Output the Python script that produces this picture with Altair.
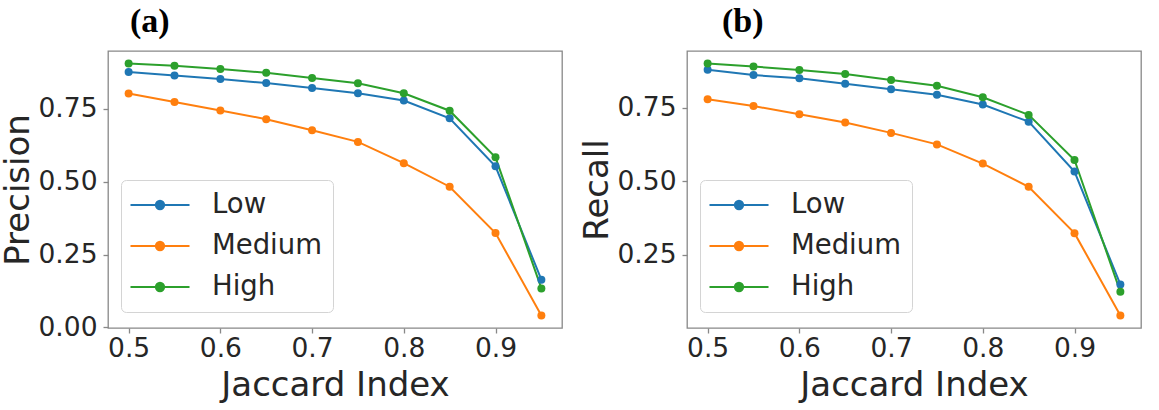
import altair as alt
import pandas as pd

jaccard = [0.5, 0.55, 0.6, 0.65, 0.7, 0.75, 0.8, 0.85, 0.9, 0.95]
series_names = ["Low", "Medium", "High"]
colors = ["#1f77b4", "#ff7f0e", "#2ca02c"]

precision_low = [0.877, 0.865, 0.853, 0.839, 0.822, 0.804, 0.779, 0.718, 0.553, 0.164]
precision_medium = [0.803, 0.774, 0.745, 0.715, 0.677, 0.637, 0.564, 0.483, 0.324, 0.041]
precision_high = [0.906, 0.898, 0.887, 0.874, 0.856, 0.838, 0.804, 0.744, 0.584, 0.134]

recall_low = [0.878, 0.860, 0.849, 0.831, 0.812, 0.793, 0.760, 0.702, 0.533, 0.150]
recall_medium = [0.778, 0.755, 0.727, 0.699, 0.664, 0.625, 0.560, 0.481, 0.324, 0.045]
recall_high = [0.899, 0.889, 0.877, 0.864, 0.843, 0.824, 0.785, 0.725, 0.572, 0.125]

x_ticks = [0.5, 0.6, 0.7, 0.8, 0.9]

SYMBOL = ("M-2.27,0L2.27,0"
          "M-0.32,0A0.32,0.32,0,1,0,0.32,0A0.32,0.32,0,1,0,-0.32,0Z")


def panel(low, med, high, ytitle, ydomain, yticks, label, title_dx):
    rows = []
    for name, vals in zip(series_names, [low, med, high]):
        for xv, yv in zip(jaccard, vals):
            rows.append({"Jaccard": xv, "Value": yv, "Series": name})
    df = pd.DataFrame(rows)
    return alt.Chart(df, title=alt.TitleParams(
        label, anchor="start", frame="group", dx=title_dx, offset=12,
        font="Liberation Serif", fontWeight="bold", fontSize=34, color="black"
    )).mark_line(
        strokeWidth=2,
        point=alt.OverlayMarkDef(filled=True, size=64, opacity=1),
    ).encode(
        x=alt.X("Jaccard:Q", title="Jaccard Index",
                scale=alt.Scale(domain=[0.4775, 0.9725], nice=False, zero=False),
                axis=alt.Axis(values=x_ticks, format=".1f",
                              labelPadding=2, titlePadding=7)),
        y=alt.Y("Value:Q", title=ytitle,
                scale=alt.Scale(domain=ydomain, nice=False, zero=False),
                axis=alt.Axis(values=yticks, format=".2f",
                              labelPadding=6, titlePadding=2)),
        color=alt.Color("Series:N",
                        scale=alt.Scale(domain=series_names, range=colors),
                        legend=alt.Legend(
                            title=None, orient="none", legendX=13, legendY=129,
                            symbolType=SYMBOL, symbolSize=676,
                            symbolStrokeWidth=2, symbolOffset=14,
                            labelOffset=38, labelFontSize=27.5,
                            labelFont="DejaVu Sans", labelColor="#262626",
                            rowPadding=13, padding=11,
                            fillColor="white", strokeColor="#d4d4d4",
                            cornerRadius=5,
                        )),
    ).properties(width=454, height=277)


left = panel(precision_low, precision_medium, precision_high, "Precision",
             [-0.002, 0.949], [0.0, 0.25, 0.5, 0.75], "(a)", 22)
right = panel(recall_low, recall_medium, recall_high, "Recall",
              [0.0023, 0.9417], [0.25, 0.5, 0.75], "(b)", 35)

chart = alt.hconcat(left, right, spacing=17).resolve_scale(
    color="independent"
).properties(
    padding={"left": 1, "top": 4, "right": 5, "bottom": 2}
).configure_view(
    stroke="#888888", strokeWidth=1.3
).configure_axis(
    domain=False, grid=False, tickColor="#888888", tickSize=5, tickWidth=1.3,
    labelFontSize=26.5, labelFont="DejaVu Sans",
    labelColor="#262626", titleFontSize=34, titleFont="DejaVu Sans",
    titleColor="#262626", titleFontWeight="normal",
)

chart.save("out.html", embed_options={"renderer": "svg", "actions": False})
